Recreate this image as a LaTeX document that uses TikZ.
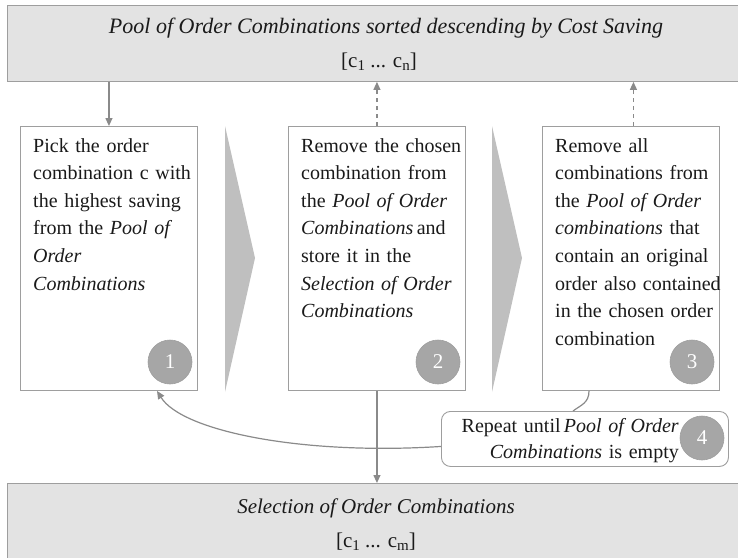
\documentclass[tikz,border=0pt]{standalone}
\usepackage{fontspec}
\setmainfont{Liberation Serif}
\usetikzlibrary{arrows.meta}

\definecolor{linegray}{HTML}{9E9E9E}
\definecolor{poolfill}{HTML}{E3E3E3}
\definecolor{chevfill}{HTML}{BFBFBF}
\definecolor{badgefill}{HTML}{A6A6A6}
\definecolor{arrowgray}{HTML}{8A8A8A}
\definecolor{ink}{HTML}{1A1A1A}

% lowered index for the c_1 ... c_n lists
\newcommand\lowidx[1]{\raisebox{-0.4ex}{\fontsize{15}{15}\selectfont #1}}

\tikzset{
  poolbar/.style={draw=linegray, fill=poolfill, line width=0.9pt, inner sep=0pt,
    anchor=north west, minimum width=760pt},
  bartext/.style={inner sep=0pt, anchor=base, text=ink, font=\fontsize{21}{21}\selectfont},
  stepbox/.style={draw=linegray, fill=white, line width=0.9pt, inner sep=0pt,
    anchor=north west, minimum width=177pt, minimum height=264pt},
  steptext/.style={inner sep=0pt, anchor=base west, text width=170pt, align=left,
    text=ink, font=\fontsize{20}{27.6}\selectfont},
  badge/.style={circle, fill=badgefill, draw=linegray, line width=0.6pt, inner sep=0pt,
    minimum size=44pt, text=white, font=\fontsize{21}{21}\selectfont},
  chevron/.style={fill=chevfill, draw=none},
  flow/.style={draw=arrowgray, line width=1.2pt, -{Triangle[length=8pt,width=7pt]}},
  feedback/.style={flow, dash pattern=on 4.5pt off 3.5pt},
  roundbox/.style={draw=linegray, fill=white, line width=0.9pt, rounded corners=9pt,
    inner sep=0pt, anchor=north west, minimum width=287pt, minimum height=55pt},
}

\begin{document}
\begin{tikzpicture}[x=1pt, y=-1pt]
  \useasboundingbox (0,0) rectangle (738,557);
  \clip (0,0) rectangle (738,557);

  % pool of candidates and the final selection
  \node[poolbar, minimum height=76pt] (pool) at (7,5) {};
  \node[bartext, font=\fontsize{22}{22}\selectfont] (poolname) at (386,33)
    {\textit{Pool of Order Combinations sorted descending by Cost Saving}};
  \node[bartext] (poollist) at (379,67) {[c\lowidx{1} ... c\lowidx{n}]};

  \node[poolbar, minimum height=90pt] (sel) at (7,483) {};
  \node[bartext] (selname) at (376,513) {\textit{Selection of Order Combinations}};
  \node[bartext] (sellist) at (376,547) {[c\lowidx{1} ... c\lowidx{m}]};

  % the three steps
  \node[stepbox] (b1) at (20,126) {};
  \node[stepbox] (b2) at (288,126) {};
  \node[stepbox] (b3) at (542,126) {};

  \node[steptext] (t1) at (33,152)
    {Pick the order\\ combination c with\\ the highest saving\\
     from the \textit{Pool of}\\ \textit{Order}\\ \textit{Combinations}};
  \node[steptext] (t2) at (301,152)
    {Remove the chosen\\ combination from\\ the \textit{Pool of Order}\\
     \textit{Combinations}\,and\\ store it in the\\
     \textit{Selection of Order}\\ \textit{Combinations}};
  \node[steptext] (t3) at (555,152)
    {Remove all\\ combinations from\\ the \textit{Pool of Order}\\
     \textit{combinations} that\\ contain an original\\
     order also contained\\ in the chosen order\\ combination};

  % chevrons between the steps
  \fill[chevron] (225,126) -- (255,258) -- (225,392) -- cycle;
  \fill[chevron] (492,126) -- (522,258) -- (492,392) -- cycle;

  \node[badge] (n1) at (170,362) {1};
  \node[badge] (n2) at (438,362) {2};
  \node[badge] (n3) at (692,362) {3};

  % loop condition
  \node[roundbox] (rep) at (441,411) {};
  \node[inner sep=0pt, anchor=base east, text width=260pt, align=right, text=ink,
        font=\fontsize{20}{26}\selectfont] (reptext) at (679,432)
    {Repeat until\,\textit{Pool of Order}\\ \textit{Combinations} is empty};
  \node[badge] (n4) at (702,438) {4};

  % connectors
  \coordinate (b3up) at ([xshift=2.5pt]b3.north);
  \draw[flow] (pool.south -| b1.north) -- (b1.north);
  \draw[feedback] (b2.north) -- (pool.south -| b2.north);
  \draw[feedback] (b3up) -- (pool.south -| b3up);
  \draw[flow] (b2.south) -- (sel.north -| b2.south);
  \draw[draw=arrowgray, line width=1.2pt]
    ([xshift=47pt]b3.south west) .. controls +(0,12) and +(8,-6) .. ([xshift=132pt]rep.north west);
  \draw[flow] ([yshift=-7.5pt]rep.west)
    .. controls +(-140,9) and +(25,40) .. ([xshift=137pt]b1.south west);
\end{tikzpicture}
\end{document}
